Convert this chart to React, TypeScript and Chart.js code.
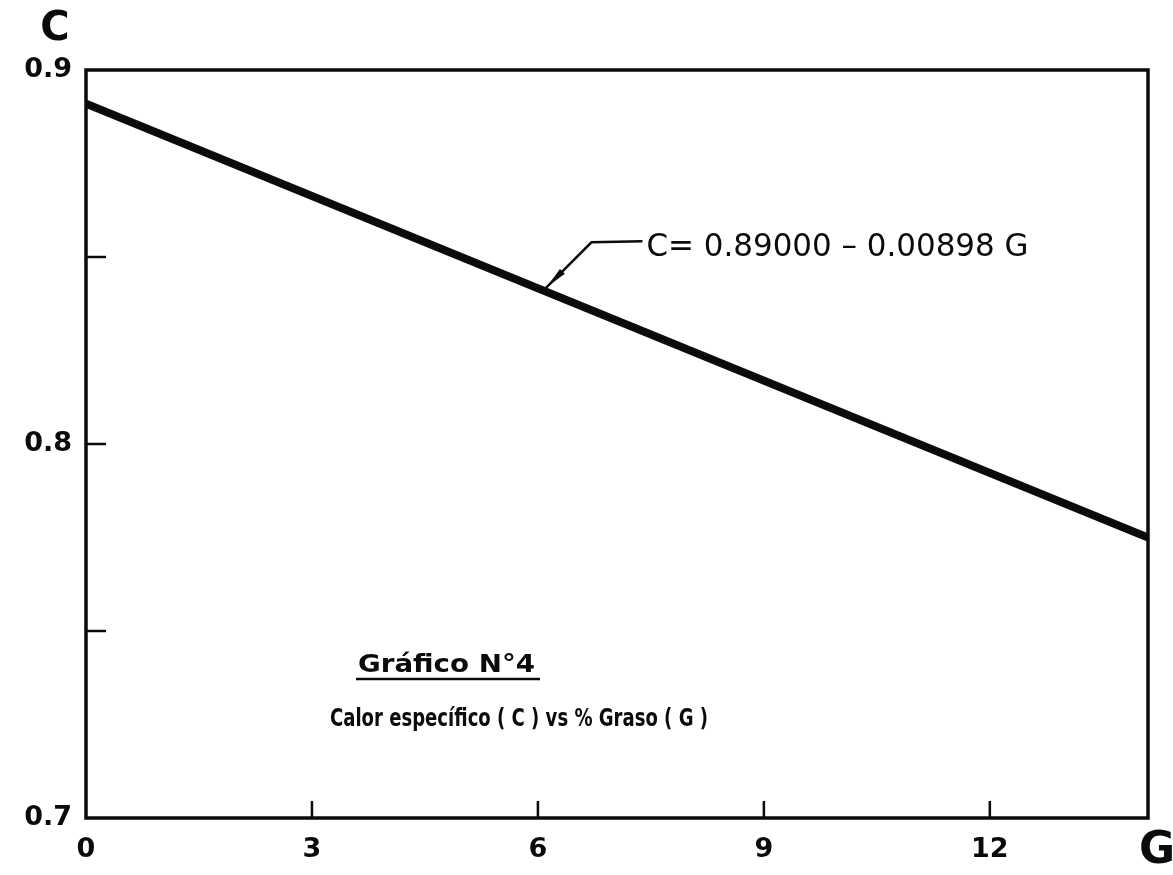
import React, { useEffect, useRef } from "react";
import { Chart, registerables } from "chart.js";

Chart.register(...registerables);

// ---- data ----
const G_VALUES = [0, 14.1];
const C_VALUES = [0.891, 0.775];
const X_TICKS = [0, 3, 6, 9, 12];
const X_TICK_LABELS = ["0", "3", "6", "9", "12"];
const Y_TICKS = [0.7, 0.75, 0.8, 0.85, 0.9];
const Y_TICK_LABELS = ["0.7", "", "0.8", "", "0.9"];
const X_INNER_TICKS = [3, 6, 9, 12];
const Y_INNER_TICKS = [0.75, 0.8, 0.85];
const X_TITLE = "G";
const Y_TITLE = "C";
const EQUATION = "C= 0.89000 – 0.00898 G";
const LEADER_G = 6.1;
const TITLE = "Gráfico N°4";
const SUBTITLE = "Calor específico ( C ) vs % Graso ( G )";

const INK = "#0b0b0b";

function fillFit(ctx: CanvasRenderingContext2D, text: string, x: number, y: number, width: number, font: string) {
  ctx.save();
  ctx.font = font;
  ctx.textAlign = "left";
  ctx.textBaseline = "alphabetic";
  const w = ctx.measureText(text).width;
  ctx.translate(x, y);
  ctx.scale(width / w, 1);
  ctx.fillText(text, 0, 0);
  ctx.restore();
}

function valueAt(g: number) {
  const t = (g - G_VALUES[0]) / (G_VALUES[1] - G_VALUES[0]);
  return C_VALUES[0] + (C_VALUES[1] - C_VALUES[0]) * t;
}

const decorPlugin = {
  id: "decor",
  afterDraw(chart: any) {
    const ctx: CanvasRenderingContext2D = chart.ctx;
    const { left, right, top, bottom } = chart.chartArea;
    const xs = chart.scales.x;
    const ys = chart.scales.y;
    ctx.save();
    ctx.strokeStyle = INK;
    ctx.fillStyle = INK;
    // frame
    ctx.lineWidth = 3.5;
    ctx.strokeRect(left, top, right - left, bottom - top);
    // inward ticks
    ctx.lineWidth = 2.5;
    X_INNER_TICKS.forEach((v) => {
      const px = xs.getPixelForValue(v);
      ctx.beginPath();
      ctx.moveTo(px, bottom);
      ctx.lineTo(px, bottom - 17);
      ctx.stroke();
    });
    Y_INNER_TICKS.forEach((v) => {
      const py = ys.getPixelForValue(v);
      ctx.beginPath();
      ctx.moveTo(left, py);
      ctx.lineTo(left + 20, py);
      ctx.stroke();
    });
    // axis titles
    ctx.textAlign = "center";
    ctx.textBaseline = "middle";
    ctx.font = "bold 40px 'DejaVu Sans'";
    ctx.fillText(Y_TITLE, left - 31, top - 40);
    ctx.font = "bold 44px 'DejaVu Sans'";
    ctx.fillText(X_TITLE, right + 9, bottom + 34);

    // leader + equation
    const px = xs.getPixelForValue(LEADER_G);
    const py = ys.getPixelForValue(valueAt(LEADER_G)) - 3;
    const ex = px + 46, ey = py - 46;
    const hx = px + 97, hy = py - 47;
    ctx.lineWidth = 2.5;
    ctx.beginPath();
    ctx.moveTo(px, py);
    ctx.lineTo(ex, ey);
    ctx.lineTo(hx, hy);
    ctx.stroke();
    const dx = ex - px, dy = ey - py;
    const len = Math.hypot(dx, dy);
    const ux = dx / len, uy = dy / len;
    const bx = px + ux * 24, by = py + uy * 24;
    ctx.beginPath();
    ctx.moveTo(px + ux * 2, py + uy * 2);
    ctx.lineTo(bx - uy * 3.5, by + ux * 3.5);
    ctx.lineTo(bx + uy * 3.5, by - ux * 3.5);
    ctx.closePath();
    ctx.fill();
    fillFit(ctx, EQUATION, hx + 4, hy + 15, 382, "32px 'DejaVu Sans'");

    // caption
    const tx = left + 272;
    const tb = bottom - 146;
    fillFit(ctx, TITLE, tx, tb, 177, "bold 24px 'DejaVu Sans'");
    ctx.lineWidth = 2.5;
    ctx.beginPath();
    ctx.moveTo(tx - 2, tb + 7);
    ctx.lineTo(tx + 182, tb + 7);
    ctx.stroke();
    fillFit(ctx, SUBTITLE, left + 244, bottom - 92, 378, "bold 24px 'DejaVu Sans'");
    ctx.restore();
  },
};

export default function App() {
  const ref = useRef<HTMLCanvasElement | null>(null);
  useEffect(() => {
    if (!ref.current) return;
    const chart = new Chart(ref.current, {
      type: "line",
      data: {
        datasets: [
          {
            data: G_VALUES.map((g, i) => ({ x: g, y: C_VALUES[i] })),
            borderColor: INK,
            borderWidth: 8,
            pointRadius: 0,
            borderCapStyle: "butt",
            tension: 0,
          },
        ],
      },
      options: {
        animation: false,
        responsive: false,
        events: [],
        layout: { padding: { top: 70, right: 25, left: 0, bottom: 0 } },
        plugins: { legend: { display: false }, tooltip: { enabled: false }, title: { display: false } },
        scales: {
          x: {
            type: "linear",
            min: 0,
            max: 14.1,
            grid: { display: false, drawTicks: false },
            border: { display: false },
            afterBuildTicks: (s: any) => {
              s.ticks = X_TICKS.map((v) => ({ value: v }));
            },
            afterFit: (s: any) => {
              s.height = 57;
            },
            ticks: {
              autoSkip: false,
              maxRotation: 0,
              padding: 16,
              color: INK,
              font: { family: "'DejaVu Sans'", size: 27, weight: "bold" },
              callback: (v: any) => {
                const i = X_TICKS.indexOf(Number(v));
                return i >= 0 ? X_TICK_LABELS[i] : "";
              },
            },
          },
          y: {
            type: "linear",
            min: 0.7,
            max: 0.9,
            grid: { display: false, drawTicks: false },
            border: { display: false },
            afterBuildTicks: (s: any) => {
              s.ticks = Y_TICKS.map((v) => ({ value: v }));
            },
            afterFit: (s: any) => {
              s.width = 86;
            },
            ticks: {
              autoSkip: false,
              padding: 14,
              color: INK,
              font: { family: "'DejaVu Sans'", size: 27, weight: "bold" },
              callback: (v: any) => {
                const i = Y_TICKS.findIndex((t) => Math.abs(t - Number(v)) < 1e-9);
                return i >= 0 ? Y_TICK_LABELS[i] : "";
              },
            },
          },
        },
      } as any,
      plugins: [decorPlugin],
    });
    return () => chart.destroy();
  }, []);
  return (
    <div style={{ position: "absolute", left: 0, top: 0, width: 1173, height: 875, background: "#fff" }}>
      <canvas ref={ref} width={1173} height={875} style={{ display: "block" }} />
    </div>
  );
}
